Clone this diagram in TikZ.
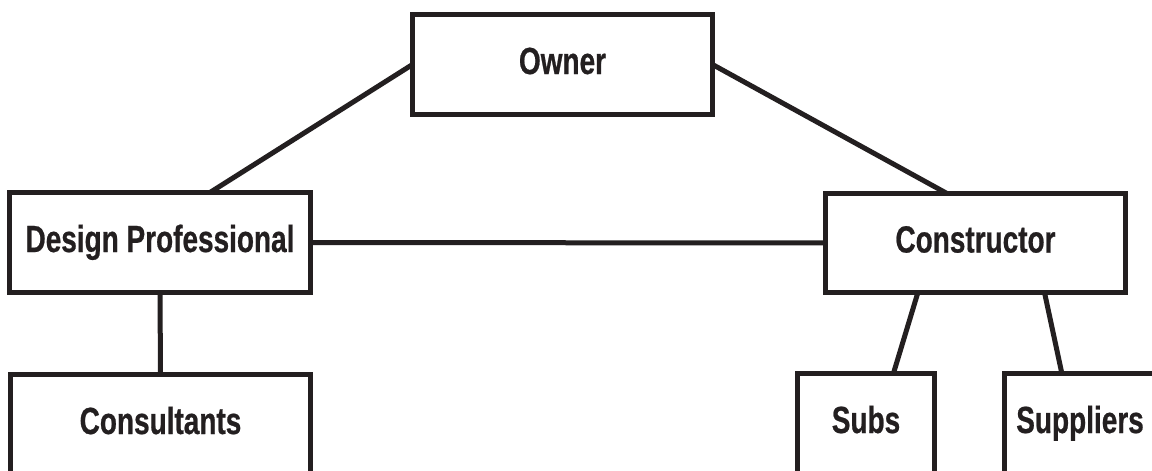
\documentclass[tikz,border=0pt]{standalone}
\usepackage{fontspec}
\newfontfamily\lbl{Liberation Sans}[FakeStretch=0.74,FakeBold=0.6]
\usetikzlibrary{calc}
\definecolor{ink}{RGB}{35,31,32}
\tikzset{
  box/.style={draw=ink, line width=5pt, text=ink, inner sep=0pt, outer sep=0pt,
    minimum width=#1, minimum height=100pt,
    font=\lbl\bfseries\fontsize{37.8pt}{40pt}\selectfont,
    text height=26pt, text depth=7pt},
  link/.style={draw=ink, line width=5pt}
}
\begin{document}
\begin{tikzpicture}[x=1pt, y=-1pt]
  \useasboundingbox (0,0) rectangle (1152,471);
  \clip (0,0) rectangle (1152,471);
  \fill[white] (0,0) rectangle (1152,471);

  % top level
  \node[box=300pt] (owner) at (562.5,64.5) {Owner};
  % second level
  \node[box=301pt] (design) at (160,242.5) {Design Professional};
  \node[box=300pt, minimum height=99pt] (constr) at (975.5,243) {Constructor};
  % third level
  \node[box=300pt] (consult) at (160.5,424.5) {Consultants};
  \node[box=137pt] (subs) at (866,423.5) {Subs};
  \node[box=151pt] (supp) at (1080,423.5) {Suppliers};

  % connectors
  \draw[link] (owner.west) -- ($(design.north west)!0.666!(design.north east)$);
  \draw[link] (owner.east) -- ($(constr.north west)!0.405!(constr.north east)$);
  \draw[link] (design.east) -- (constr.west);
  \draw[link] (design.south) -- (consult.north);
  \draw[link] ($(constr.south west)!0.308!(constr.south east)$) -- ($(subs.north west)!0.70!(subs.north east)$);
  \draw[link] ($(constr.south west)!0.73!(constr.south east)$) -- ($(supp.north west)!0.38!(supp.north east)$);
\end{tikzpicture}
\end{document}
